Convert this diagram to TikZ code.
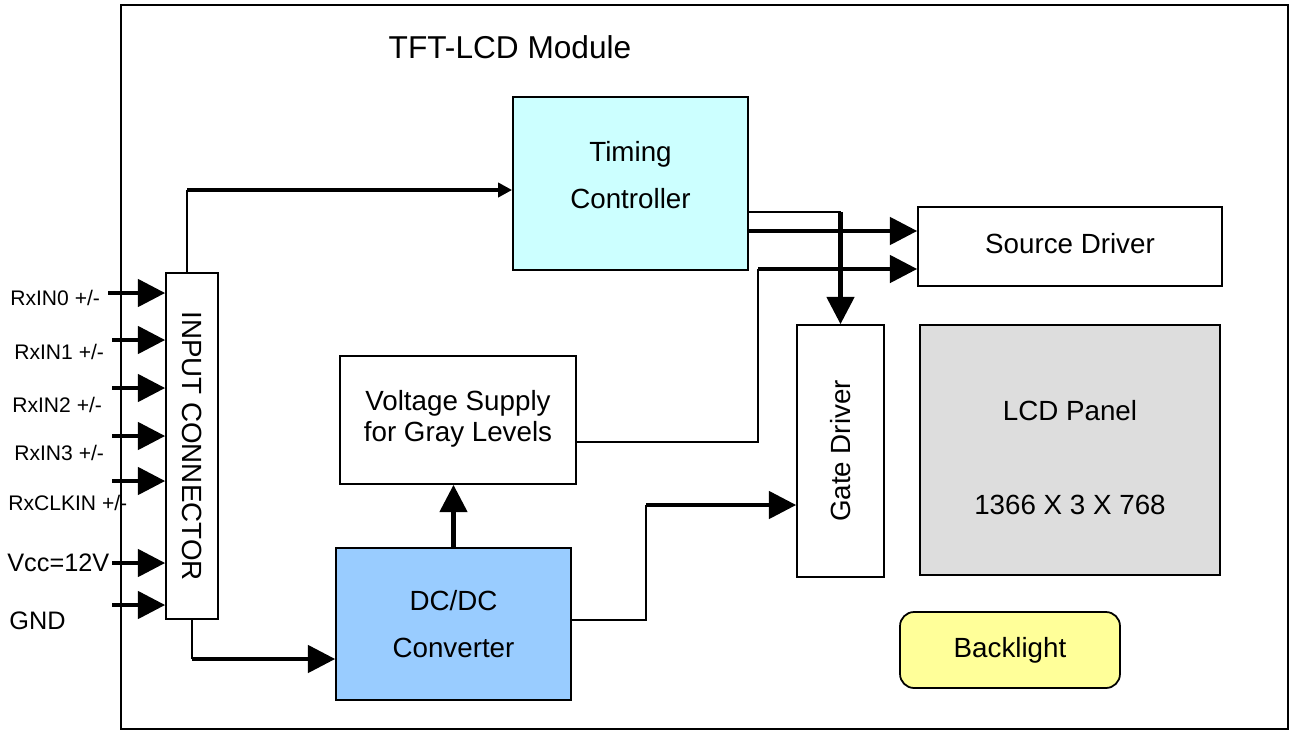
\documentclass[tikz,border=0pt]{standalone}
\usepackage{fontspec}
\setmainfont{Liberation Sans}
\usepackage{tikz}
\usetikzlibrary{arrows.meta, positioning, calc}

\definecolor{tccyan}{HTML}{CCFFFF}
\definecolor{dcblue}{HTML}{99CCFF}
\definecolor{panelgray}{HTML}{DDDDDD}
\definecolor{blyellow}{HTML}{FFFF99}

\begin{document}
\begin{tikzpicture}[
  x=0.02cm, y=-0.02cm,
  block/.style={draw, line width=1pt, inner sep=0pt, align=center, font=\fontsize{15.8pt}{26.6pt}\selectfont},
  pinlabel/.style={anchor=west, inner sep=0pt, font=\fontsize{12pt}{14pt}\selectfont},
  powerlabel/.style={anchor=west, inner sep=0pt, font=\fontsize{14.4pt}{16pt}\selectfont},
  link/.style={line width=1pt},
  bus/.style={line width=2.3pt, -{Triangle[length=15.5pt,width=15.5pt]}}
]
  \useasboundingbox (0,0) rectangle (1292,731);

  % Module boundary
  \draw[line width=1.3pt] (121,5) rectangle (1288,729);
  \node[font=\fontsize{18pt}{20pt}\selectfont] (title) at (510,47) {TFT-LCD Module};

  % Blocks
  \node[block, fill=tccyan, text depth=10pt, minimum width=4.7cm, minimum height=3.46cm] (tc) at (630.5,183.5) {Timing\\Controller};
  \node[block, text depth=3pt, minimum width=6.08cm, minimum height=1.58cm] (sd) at (1070,246.5) {Source Driver};
  \node[block, minimum width=1.74cm, minimum height=5.04cm] (gd) at (840.5,451) {\rotatebox{90}{Gate Driver}};
  \node[block, fill=panelgray, text height=74pt, minimum width=6cm, minimum height=5cm, font=\fontsize{15.8pt}{53.9pt}\selectfont] (lcd) at (1070,450) {LCD Panel\\1366 X 3 X 768};
  \node[block, font=\fontsize{15.8pt}{18pt}\selectfont, text depth=4.5pt, minimum width=4.72cm, minimum height=2.56cm] (vs) at (458,420) {Voltage Supply\\for Gray Levels};
  \node[block, fill=dcblue, minimum width=4.7cm, minimum height=3.04cm] (dc) at (453.5,624) {DC/DC\\Converter};
  \node[block, fill=blyellow, rounded corners=8pt, minimum width=4.4cm, minimum height=1.52cm] (bl) at (1010,650) {Backlight};
  \node[block, minimum width=1.04cm, minimum height=6.92cm] (conn) at (192,446) {\rotatebox{-90}{INPUT CONNECTOR}};

  % Input pins
  \node[pinlabel] (lrx0) at (10,298) {RxIN0 +/-};
  \node[pinlabel] (lrx1) at (14,352) {RxIN1 +/-};
  \node[pinlabel] (lrx2) at (12,405) {RxIN2 +/-};
  \node[pinlabel] (lrx3) at (14,453) {RxIN3 +/-};
  \node[pinlabel] (lclk) at (8,503) {RxCLKIN +/-};
  \node[powerlabel] (lvcc) at (7,563) {Vcc=12V};
  \node[powerlabel] (lgnd) at (9,621) {GND};

  \coordinate (rx0) at (108,293);
  \coordinate (rx1) at (112,340);
  \coordinate (rx2) at (112,388);
  \coordinate (rx3) at (112,436);
  \coordinate (clk) at (112,481);
  \coordinate (vcc) at (112,563);
  \coordinate (gnd) at (112,605);
  \draw[bus] (rx0) -- (rx0 -| conn.west);
  \draw[bus] (rx1) -- (rx1 -| conn.west);
  \draw[bus] (rx2) -- (rx2 -| conn.west);
  \draw[bus] (rx3) -- (rx3 -| conn.west);
  \draw[bus] (clk) -- (clk -| conn.west);
  \draw[bus] (vcc) -- (vcc -| conn.west);
  \draw[bus] (gnd) -- (gnd -| conn.west);

  % Connector to timing controller and DC/DC
  \coordinate (upBend) at (187,190);
  \draw[link] ([xshift=-0.1cm]conn.north) -- (upBend);
  \draw[bus, -{Triangle[length=8pt,width=8pt]}] (upBend) -- (upBend -| tc.west);
  \coordinate (downBend) at (192,659);
  \draw[link] (conn.south) -- (downBend);
  \draw[bus] (downBend) -- (downBend -| dc.west);

  % DC/DC outputs
  \draw[bus] (dc.north) -- (dc.north |- vs.south);
  \coordinate (gdBend) at (646,505);
  \draw[link] ([yshift=0.08cm]dc.east) -| (gdBend);
  \draw[bus] (gdBend) -- (gdBend -| gd.west);

  % Gray level supply to source driver
  \coordinate (sdBend) at (758,269);
  \draw[link] ([yshift=-0.44cm]vs.east) -| (sdBend);
  \draw[bus] (sdBend) -- (sdBend -| sd.west);

  % Timing controller outputs
  \coordinate (tcOut) at ([yshift=-0.95cm]tc.east);
  \draw[bus] (tcOut) -- (tcOut -| sd.west);
  \coordinate (gdTap) at (840.5,212);
  \draw[link] (gdTap -| tc.east) -- (gdTap);
  \draw[bus] (gdTap) -- (gd.north);

\end{tikzpicture}
\end{document}
